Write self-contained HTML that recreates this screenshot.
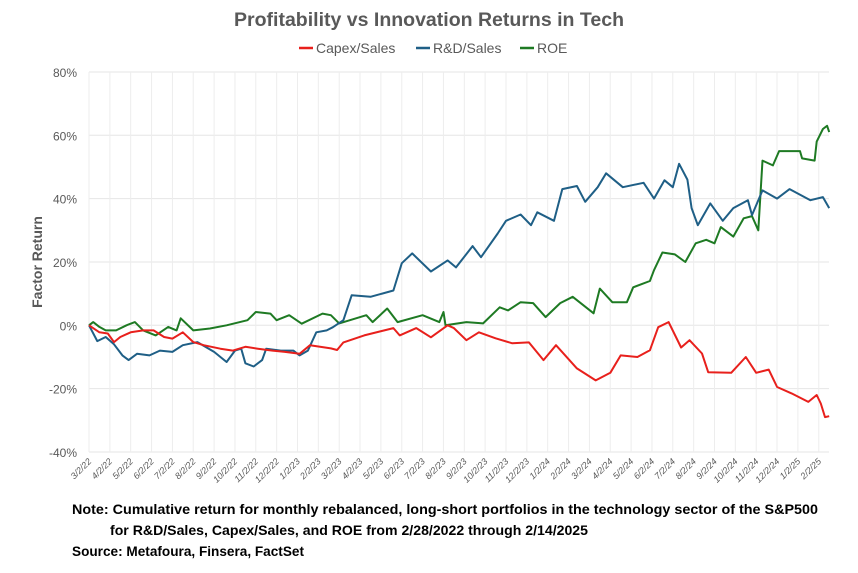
<!DOCTYPE html>
<html><head><meta charset="utf-8"><style>
html,body{margin:0;padding:0;background:#fff;}
svg{display:block;font-family:"Liberation Sans",sans-serif;}
</style></head><body>
<svg id="chart" width="858" height="573" viewBox="0 0 858 573">
<text x="429" y="26" text-anchor="middle" font-size="19" font-weight="bold" fill="#595959" textLength="390" lengthAdjust="spacingAndGlyphs">Profitability vs Innovation Returns in Tech</text>
<g font-size="14" fill="#595959">
<line x1="299" y1="48" x2="313" y2="48" stroke="#e8201c" stroke-width="2.5"/>
<text x="316" y="53">Capex/Sales</text>
<line x1="416" y1="48" x2="430" y2="48" stroke="#1f5f86" stroke-width="2.5"/>
<text x="433" y="53">R&amp;D/Sales</text>
<line x1="520" y1="48" x2="534" y2="48" stroke="#1e7a23" stroke-width="2.5"/>
<text x="537" y="53">ROE</text>
</g>
<text transform="translate(42,262) rotate(-90)" text-anchor="middle" font-size="14" font-weight="bold" fill="#595959">Factor Return</text>
<g id="grid"></g>
<g id="series"></g>
<g font-size="14" font-weight="bold" fill="#000">
<text x="72" y="514" textLength="746" lengthAdjust="spacingAndGlyphs">Note:  Cumulative return for monthly rebalanced, long-short portfolios  in the technology sector of the S&amp;P500</text>
<text x="110" y="535" textLength="478" lengthAdjust="spacingAndGlyphs">for  R&amp;D/Sales, Capex/Sales, and ROE from 2/28/2022 through 2/14/2025</text>
<text x="72" y="556" textLength="232" lengthAdjust="spacingAndGlyphs">Source: Metafoura, Finsera, FactSet</text>
</g>
</svg>
<script>
const yTicks=[80,60,40,20,0,-20,-40];
const xLabels=["3/2/22","4/2/22","5/2/22","6/2/22","7/2/22","8/2/22","9/2/22","10/2/22","11/2/22","12/2/22","1/2/23","2/2/23","3/2/23","4/2/23","5/2/23","6/2/23","7/2/23","8/2/23","9/2/23","10/2/23","11/2/23","12/2/23","1/2/24","2/2/24","3/2/24","4/2/24","5/2/24","6/2/24","7/2/24","8/2/24","9/2/24","10/2/24","11/2/24","12/2/24","1/2/25","2/2/25"];
// dates are months elapsed since 3/2/22
const rdDates=[0,0.4,0.8,1.2,1.6,1.9,2.3,2.9,3.4,4,4.5,5.2,6,6.6,7,7.3,7.5,7.9,8.3,8.5,9.2,9.8,10.1,10.5,10.9,11.4,11.7,12.2,12.6,13.5,14.6,15,15.5,16.4,17.2,17.6,18.4,18.8,19.6,20,20.7,21.2,21.5,22.3,22.7,23.4,23.8,24.4,24.8,25.6,26.6,27.1,27.6,28,28.3,28.7,28.9,29.2,29.8,30.4,30.9,31.6,31.8,32.3,33,33.6,34.6,35.2,35.5];
const rdSales=[0,-5,-3.7,-6,-9.5,-11,-9,-9.5,-8,-8.4,-6.3,-5.3,-8.4,-11.6,-8,-7.4,-12,-13,-11,-7.4,-8,-8,-9.5,-8,-2.2,-1.6,-0.6,1.6,9.5,9,11,19.6,22.7,17,20.5,18.3,25,21.5,29,33,35,31.6,35.7,33,43,44,39,43.6,48,43.6,45,40,45.8,43.6,51,46,37,31.6,38.5,33,37,39.5,34.8,42.6,40,43,39.5,40.5,37];
const capexDates=[0,0.5,0.9,1.2,1.5,2,2.6,3.1,3.6,4,4.5,5,5.5,6.3,6.9,7.5,8.1,8.8,9.4,10.1,10.6,11.6,11.9,12.2,13.2,14.6,14.9,15.7,16.4,17.2,17.5,18.1,18.7,19.5,20.3,21.1,21.8,22.4,23.4,24.3,25,25.5,26.3,26.9,27.3,27.8,28.4,28.8,29.4,29.7,30.8,31.5,32,32.6,33,33.7,34.5,34.9,35.1,35.3,35.5];
const capexSales=[0,-2.2,-2.6,-5.3,-3.7,-2.2,-1.6,-1.6,-3.7,-4.2,-2.2,-5.3,-6.3,-7.4,-8,-6.8,-7.4,-8,-8.4,-9,-6.3,-7.3,-7.8,-5.4,-3.2,-0.9,-3.2,-0.9,-3.8,0,-0.9,-4.7,-2.2,-4.1,-5.7,-5.4,-11,-6.3,-13.6,-17.4,-15,-9.5,-10,-7.9,-0.6,1,-7,-4.7,-8.9,-14.8,-15,-10,-15,-14,-19.5,-21.5,-24.2,-22,-24.7,-29,-28.7];
const roeDates=[0,0.2,0.5,0.8,1.3,1.8,2.2,2.6,3.2,3.8,4.2,4.4,5,5.8,6.6,7.6,8,8.7,9,9.6,10.2,11.2,11.6,12,13.3,13.6,14.3,14.8,16,16.8,17,17.1,18.1,18.9,19.7,20.1,20.7,21.3,21.9,22.6,23.2,24.2,24.5,25.1,25.8,26.1,26.9,27.1,27.5,28.1,28.6,29.1,29.6,30,30.3,30.9,31.4,31.8,32.1,32.3,32.8,33.1,34.1,34.2,34.8,34.9,35.2,35.4,35.5];
const roe=[0,1,-0.5,-1.6,-1.6,0,1,-1.6,-3.2,-0.5,-1.6,2.2,-1.6,-1,0,1.6,4.2,3.7,1.6,3.2,0.5,3.7,3.2,0.6,3.2,1,5.3,1,3.2,1,4.2,0,1,0.6,5.7,4.7,7.3,7,2.6,7,9,3.8,11.6,7.3,7.3,12,14,17.4,23,22.4,20,25.9,27,25.9,31,28,33.8,34.5,30,52,50.5,55,55,52.7,52,58,62,63,61];
const NS="http://www.w3.org/2000/svg";
const X0=89,XM=20.85,XEND=829;
function yScale(v){return 325.3-(v/20)*63.33;}
function xScale(m){return X0+m*XM;}
function mk(tag,attrs,parent){const e=document.createElementNS(NS,tag);for(const k in attrs)e.setAttribute(k,attrs[k]);parent.appendChild(e);return e;}
const grid=document.getElementById('grid');
yTicks.forEach(t=>{
 const l=mk('line',{x1:X0,x2:XEND,y1:yScale(t),y2:yScale(t),stroke:'#e6e6e6','stroke-width':1},grid);
 
 
 const tx=mk('text',{x:77,y:yScale(t)+5,'text-anchor':'end','font-size':12,fill:'#595959'},grid);
 tx.textContent=t+'%';
 
 
});
xLabels.forEach((lab,i)=>{
 const x=xScale(i);
 const l=mk('line',{x1:x,x2:x,y1:yScale(80),y2:yScale(-40),stroke:'#ededed','stroke-width':1},grid);
 
 
 const tx=mk('text',{transform:`translate(${x+3},${462}) rotate(-45)`,'text-anchor':'end','font-size':9,'font-style':'italic',fill:'#595959'},grid);
 tx.textContent=lab;
 
 
});
const ser=document.getElementById('series');
function draw(dates,vals,color,name){
 const pts=vals.map((v,i)=>xScale(dates[i]).toFixed(1)+','+yScale(v).toFixed(1)).join(' ');
 const p=mk('polyline',{points:pts,fill:'none',stroke:color,'stroke-width':2,'stroke-linejoin':'round'},ser);
 
 
}
draw(roeDates,roe,'#1e7a23','roe-line');
draw(rdDates,rdSales,'#1f5f86','rd-sales-line');
draw(capexDates,capexSales,'#e8201c','capex-sales-line');
</script>
</body></html>
